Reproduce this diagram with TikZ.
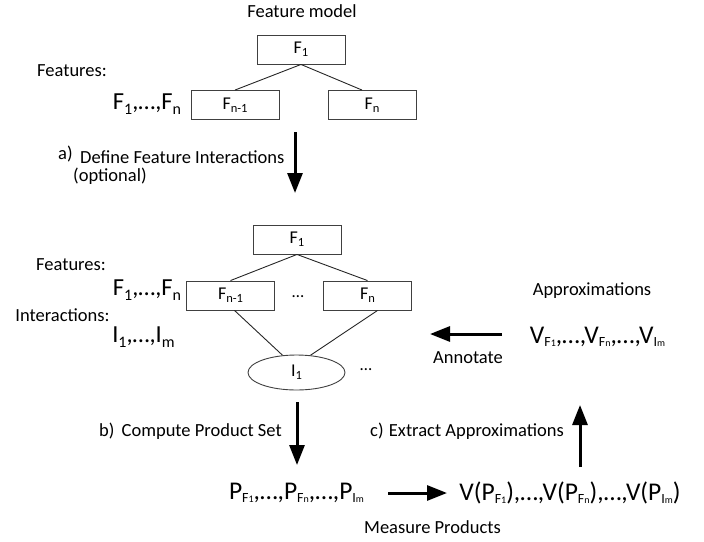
\documentclass[tikz,border=0pt]{standalone}
\usepackage{fontspec}
\setmainfont{Carlito}
\usetikzlibrary{arrows.meta,shapes.geometric,calc}
\newcommand\asub[1]{\raisebox{-0.2em}{\fontsize{16}{16}\selectfont #1}}
\newcommand\bsub[1]{\raisebox{-0.18em}{\fontsize{12.5}{12.5}\selectfont #1}}
\newcommand\vsub[2]{\raisebox{-0.12em}{\fontsize{14}{14}\selectfont #1{\fontsize{10}{10}\selectfont #2}}}
\tikzset{
  lbl/.style={font=\fontsize{18.5}{21}\selectfont, inner sep=0pt},
  big/.style={font=\fontsize{24.5}{28}\selectfont, inner sep=0pt},
  bigv/.style={font=\fontsize{25.5}{29}\selectfont, inner sep=0pt},
  fbox/.style={draw=black!75, line width=0.9pt, minimum width=88pt, minimum height=29pt, inner sep=0pt, font=\fontsize{18}{20}\selectfont},
  ibox/.style={ellipse, draw=black!75, line width=0.9pt, minimum width=97pt, minimum height=35pt, inner sep=0pt, font=\fontsize{18}{20}\selectfont},
  dotsl/.style={font=\fontsize{17}{19}\selectfont, inner sep=0pt},
  bigarrow/.style={line width=3pt, -{Triangle[length=20pt,width=15pt]}},
  conn/.style={line width=0.9pt, black!85},
}
\begin{document}
\begin{tikzpicture}[x=1pt,y=-1pt]
\useasboundingbox (0,0) rectangle (704,541);
% ---- top feature model
\node[lbl] (title) at (302,11) {Feature model};
\node[fbox] (f1a) at (301,49.5) {F\bsub{1}};
\node[fbox] (fn1a) at (235,105) {F\bsub{n-1}};
\node[fbox] (fna) at (372,105) {F\bsub{n}};
\draw[conn] (f1a.south) -- (fn1a.north);
\draw[conn] (f1a.south) -- ($(fna.north)+(-10,0)$);
\node[lbl] (feat1) at (72,71) {Features:};
\node[big] (flist1) at (147,104) {F\asub{1},…,F\asub{n}};
% ---- arrow a
\coordinate (a1) at (295,132);
\coordinate (a2) at (295,193);
\draw[bigarrow] (a1) -- (a2);
\node[lbl, anchor=west] (alab) at (58,154) {a)};
\node[lbl, anchor=west] (alabt) at (80,157) {Define Feature Interactions};
\node[lbl, anchor=west] (aopt) at (73,176) {(optional)};
% ---- second feature model
\node[fbox] (f1b) at (297,239.5) {F\bsub{1}};
\node[fbox] (fn1b) at (230.5,295.5) {F\bsub{n-1}};
\node[fbox] (fnb) at (367.5,295.5) {F\bsub{n}};
\node[dotsl] (dotsb) at (298,297) {…};
\node[ibox] (i1) at (296.5,372.5) {I\bsub{1}};
\node[dotsl] (dotsi) at (366,370) {…};
\draw[conn] (f1b.south) -- (fn1b.north);
\draw[conn] (f1b.south) -- (fnb.north);
\draw[conn] ($(fn1b.south)+(4,0)$) -- (i1.129);
\draw[conn] ($(fnb.south)+(10,0)$) -- (i1.51);
\node[lbl] (feat2) at (71,265) {Features:};
\node[big] (flist2) at (147,290) {F\asub{1},…,F\asub{n}};
\node[lbl] (inter) at (62.5,315) {Interactions:};
\node[big] (ilist) at (143.5,337) {I\asub{1},…,I\asub{m}};
% ---- approximations
\node[lbl] (approx) at (592,291) {Approximations};
\node[bigv] (vlist) at (597.5,337) {V\vsub{F}{1},…,V\vsub{F}{n},…,V\vsub{I}{m}};
\coordinate (ann1) at (502,334);
\coordinate (ann2) at (430,334);
\draw[bigarrow] (ann1) -- (ann2);
\node[lbl] (annot) at (468,358) {Annotate};
% ---- bottom
\coordinate (b1) at (297,402);
\coordinate (b2) at (297,465);
\draw[bigarrow] (b1) -- (b2);
\node[lbl, anchor=west] (blab) at (99,431) {b)};
\node[lbl, anchor=east] (blabt) at (282,432) {Compute Product Set};
\node[bigv] (plist) at (296.5,493) {P\vsub{F}{1},…,P\vsub{F}{n},…,P\vsub{I}{m}};
\coordinate (m1) at (388,493);
\coordinate (m2) at (447,493);
\draw[bigarrow] (m1) -- (m2);
\node[bigv] (vplist) at (570,493) {V(P\vsub{F}{1}),…,V(P\vsub{F}{n}),…,V(P\vsub{I}{m})};
\node[lbl] (meas) at (432.5,527) {Measure Products};
\coordinate (c1) at (580,467);
\coordinate (c2) at (580,405);
\draw[bigarrow] (c1) -- (c2);
\node[lbl, anchor=west] (clab) at (370,431) {c)};
\node[lbl, anchor=east] (clabt) at (564,432) {Extract Approximations};
\end{tikzpicture}
\end{document}
